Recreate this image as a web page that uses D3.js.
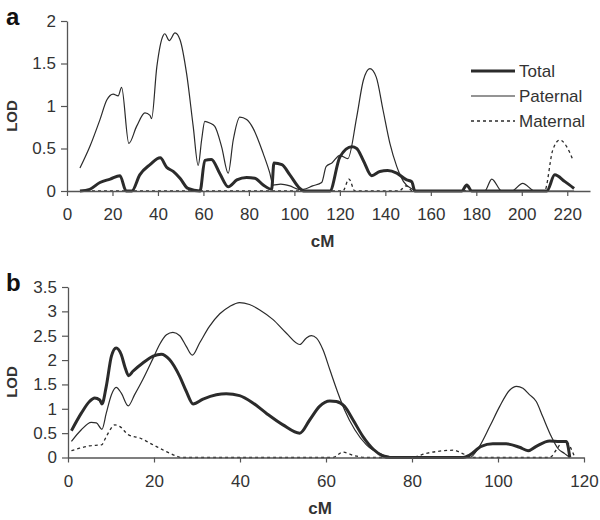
<!DOCTYPE html>
<html>
<head>
<meta charset="utf-8">
<script src="https://cdn.jsdelivr.net/npm/d3@7"></script>
<style>
  body { margin: 0; background: #fff; }
  svg { display: block; font-family: "Liberation Sans", Arial, sans-serif; }
</style>
</head>
<body>
<svg id="chart" width="600" height="520"></svg>
<script>
// Panel a: [cM, LOD]
const aTotal = [
  [5.7, 0], [10, 0.02], [14.5, 0.1], [19, 0.14], [23.3, 0.18], [26, 0], [28.5, 0],
  [32, 0.19], [36.5, 0.31], [41, 0.39], [43.8, 0.28], [46.7, 0.23], [49.7, 0.15],
  [53.2, 0.03], [58.5, 0], [60.6, 0.36], [63.5, 0.37], [67.3, 0.2], [70.9, 0.05],
  [74.7, 0.13], [79, 0.16], [82.6, 0.15], [86.3, 0.07], [90, 0.02], [91, 0.33],
  [94.5, 0.31], [98, 0.19], [102.4, 0.03], [104, 0], [115.6, 0], [120, 0.4],
  [125.3, 0.52], [127.4, 0.5], [130.3, 0.36], [134, 0.18], [137.6, 0.23], [141, 0.24],
  [145, 0.21], [149.4, 0.13], [151.6, 0.11], [153, 0], [173.6, 0], [175.8, 0.07],
  [178, 0], [211, 0], [214.5, 0.19], [219, 0.11], [223, 0.03]
];
const aPaternal = [
  [5.7, 0.27], [10, 0.52], [14.5, 0.84], [17.5, 1.07], [20.3, 1.14], [22.5, 1.12],
  [24, 1.22], [27.2, 0.56], [30.6, 0.76], [34.3, 0.92], [36.5, 0.89], [37.2, 0.85],
  [39.5, 1.46], [42.3, 1.83], [43, 1.85], [45, 1.77], [47.5, 1.86], [49.7, 1.78],
  [52.6, 1.38], [55.5, 0.76], [57.7, 0.3], [59.2, 0.6], [60.6, 0.82], [62.8, 0.8],
  [65, 0.76], [68, 0.52], [70.9, 0.21], [73.1, 0.6], [76, 0.87], [79, 0.84],
  [81.8, 0.74], [86.3, 0.44], [89.2, 0.21], [90.6, 0.07], [94, 0.08], [98, 0.06],
  [102, 0.02], [104, 0.02], [108, 0.06], [112, 0.1], [114, 0.29], [116.5, 0.33],
  [120, 0.42], [123.5, 0.38], [127.4, 0.87], [130.3, 1.3], [133.2, 1.44], [136, 1.34],
  [139, 0.95], [142, 0.56], [145, 0.29], [148, 0.11], [152, 0.02], [154, 0],
  [183.7, 0], [186.8, 0.14], [191.2, 0], [195.6, 0], [200.4, 0.09], [205.7, 0],
  [223, 0]
];
const aMaternal = [
  [5.7, 0], [121.3, 0], [124, 0.14], [126.6, 0], [146, 0], [149, 0.06], [152, 0],
  [210, 0], [213.6, 0.48], [216.7, 0.6], [219.8, 0.52], [222.4, 0.37]
];

// Panel b: [cM, LOD]
const bTotal = [
  [0.8, 0.55], [3.1, 0.91], [5, 1.15], [6.2, 1.22], [7.4, 1.18], [7.9, 1.1],
  [8.9, 1.46], [10.1, 2.08], [11.2, 2.25], [12.4, 2.11], [13.2, 1.87], [14.1, 1.68],
  [15.1, 1.77], [17.4, 1.94], [19.8, 2.08], [21.7, 2.12], [23.6, 2.01], [26, 1.66],
  [27.5, 1.36], [29.1, 1.1], [31.4, 1.2], [34.5, 1.29], [36.8, 1.31], [39.9, 1.27],
  [43, 1.12], [46.1, 0.91], [50, 0.67], [53.9, 0.5], [56.2, 0.77], [58.5, 1.05],
  [60.9, 1.16], [62.4, 1.15], [64.3, 1.05], [66.3, 0.77], [68.6, 0.43], [71, 0.17],
  [73.3, 0.03], [74.8, 0], [91.9, 0], [93.4, 0.05], [96.1, 0.23], [98.8, 0.28],
  [101.9, 0.28], [105, 0.21], [107, 0.14], [108.9, 0.23], [112, 0.34], [114.3, 0.33],
  [115.9, 0.33], [116.7, 0]
];
const bPaternal = [
  [0.8, 0.33], [3.1, 0.57], [5.4, 0.72], [6.6, 0.71], [7.9, 0.58], [8.9, 0.91],
  [10.1, 1.29], [11.2, 1.44], [12.4, 1.32], [14, 1.06], [15.5, 1.29], [17.4, 1.6],
  [19.8, 2.04], [21.3, 2.32], [22.9, 2.52], [24.4, 2.57], [26, 2.5], [27.5, 2.28],
  [28.9, 2.1], [30.6, 2.35], [32.9, 2.69], [35.3, 2.95], [37.6, 3.1], [39.9, 3.18],
  [42.2, 3.14], [44.6, 3.03], [47.7, 2.83], [50.8, 2.55], [53.9, 2.32], [55.4, 2.45],
  [56.6, 2.5], [57.8, 2.45], [59.3, 2.21], [60.9, 1.8], [62.8, 1.32], [64.3, 0.98],
  [66.7, 0.57], [69.4, 0.26], [72.5, 0.08], [74.8, 0.02], [76, 0], [93.4, 0],
  [95.7, 0.23], [98.1, 0.64], [100.4, 1.05], [102.7, 1.38], [104.3, 1.46],
  [105.8, 1.42], [107.3, 1.29], [108.9, 1.15], [110.4, 0.84], [112.4, 0.43],
  [113.9, 0.19], [115.5, 0.08], [116.7, 0]
];
const bMaternal = [
  [0.8, 0.14], [2.7, 0.19], [5, 0.24], [7.8, 0.26], [8.9, 0.43], [10.9, 0.67],
  [12, 0.64], [14, 0.47], [16.7, 0.4], [19.8, 0.26], [22.9, 0.12], [25.2, 0.03],
  [26.4, 0], [61.6, 0], [63.9, 0.11], [66.5, 0.04], [69.4, 0], [79.7, 0],
  [83.6, 0.09], [87.5, 0.14], [89.8, 0.15], [91.3, 0.1], [93.4, 0.02], [94.5, 0],
  [112, 0], [113.6, 0.16], [115.1, 0.33], [116.3, 0.29], [117.1, 0.16], [117.8, 0.02]
];

const aXTicks = d3.range(0, 221, 20);
const aYTicks = [0, 0.5, 1, 1.5, 2];
const bXTicks = d3.range(0, 121, 20);
const bYTicks = [0, 0.5, 1, 1.5, 2, 2.5, 3, 3.5];
const legendNames = ["Total", "Paternal", "Maternal"];

const ink = "#2b2b2b";
const axisColor = "#555";
const textColor = "#333";
const styles = {
  Total: { width: 3, dash: null },
  Paternal: { width: 1.2, dash: null },
  Maternal: { width: 1.3, dash: "3,3" }
};

const svg = d3.select("#chart");

function drawPanel(opt) {
  const x = d3.scaleLinear().domain(opt.xDomain).range([opt.left, opt.right]);
  const y = d3.scaleLinear().domain(opt.yDomain).range([opt.bottom, opt.top]);
  const g = svg.append("g");

  const line = d3.line()
    .x((d) => x(d[0]))
    .y((d) => y(d[1]))
    .curve(d3.curveMonotoneX);

  // curves
  for (const s of opt.series) {
    const st = styles[s.name];
    g.append("path")
      .attr("d", line(s.data))
      .attr("fill", "none")
      .attr("stroke", ink)
      .attr("stroke-width", st.width)
      .attr("stroke-dasharray", st.dash)
      .attr("stroke-linejoin", "round");
  }

  // axes
  const xAxis = g.append("g")
    .attr("transform", `translate(0,${opt.bottom})`)
    .call(d3.axisBottom(x).tickValues(opt.xTicks).tickSize(5).tickSizeOuter(0).tickPadding(12));
  const yAxis = g.append("g")
    .attr("transform", `translate(${opt.left},0)`)
    .call(d3.axisLeft(y).tickValues(opt.yTicks).tickFormat((d) => String(d))
      .tickSize(6).tickSizeOuter(0).tickPadding(5));

  for (const ax of [xAxis, yAxis]) {
    ax.select(".domain").attr("stroke", axisColor).attr("stroke-width", 1.3);
    ax.selectAll(".tick line").attr("stroke", axisColor).attr("stroke-width", 1.2);
    ax.selectAll(".tick text")
      .attr("fill", textColor)
      .style("font-size", "17px")
      .style("font-family", "'Liberation Sans', Arial, sans-serif");
  }

  // axis titles
  g.append("text")
    .attr("x", (opt.left + opt.right) / 2 - 6)
    .attr("y", opt.bottom + 56)
    .attr("text-anchor", "middle")
    .attr("fill", textColor)
    .attr("font-weight", "bold")
    .attr("font-size", 17)
    .text("cM");

  g.append("text")
    .attr("transform", `translate(17,${opt.lodY}) rotate(-90)`)
    .attr("text-anchor", "middle")
    .attr("fill", textColor)
    .attr("font-weight", "bold")
    .attr("font-size", 15)
    .text("LOD");

  // panel letter
  g.append("text")
    .attr("x", 6)
    .attr("y", opt.top + 4)
    .attr("fill", "#111")
    .attr("font-weight", "bold")
    .attr("font-size", 24)
    .text(opt.letter);

  return { g, x, y };
}

const pa = drawPanel({
  letter: "a",
  xDomain: [0, 230], yDomain: [0, 2],
  left: 67, right: 590, top: 21, bottom: 191,
  xTicks: aXTicks, yTicks: aYTicks, lodY: 116,
  series: [
    { name: "Maternal", data: aMaternal },
    { name: "Paternal", data: aPaternal },
    { name: "Total", data: aTotal }
  ]
});

drawPanel({
  letter: "b",
  xDomain: [0, 120], yDomain: [0, 3.5],
  left: 68, right: 584, top: 287, bottom: 457.5,
  xTicks: bXTicks, yTicks: bYTicks, lodY: 382,
  series: [
    { name: "Maternal", data: bMaternal },
    { name: "Paternal", data: bPaternal },
    { name: "Total", data: bTotal }
  ]
});

// legend (panel a)
const legend = pa.g.append("g");
legendNames.forEach((name, i) => {
  const st = styles[name];
  const yy = 71 + i * 25;
  legend.append("line")
    .attr("x1", 471).attr("x2", 515)
    .attr("y1", yy).attr("y2", yy)
    .attr("stroke", ink)
    .attr("stroke-width", st.width)
    .attr("stroke-dasharray", st.dash);
  legend.append("text")
    .attr("x", 519)
    .attr("y", yy)
    .attr("dy", "0.35em")
    .attr("fill", textColor)
    .attr("font-size", 17)
    .text(name);
});
</script>
</body>
</html>
